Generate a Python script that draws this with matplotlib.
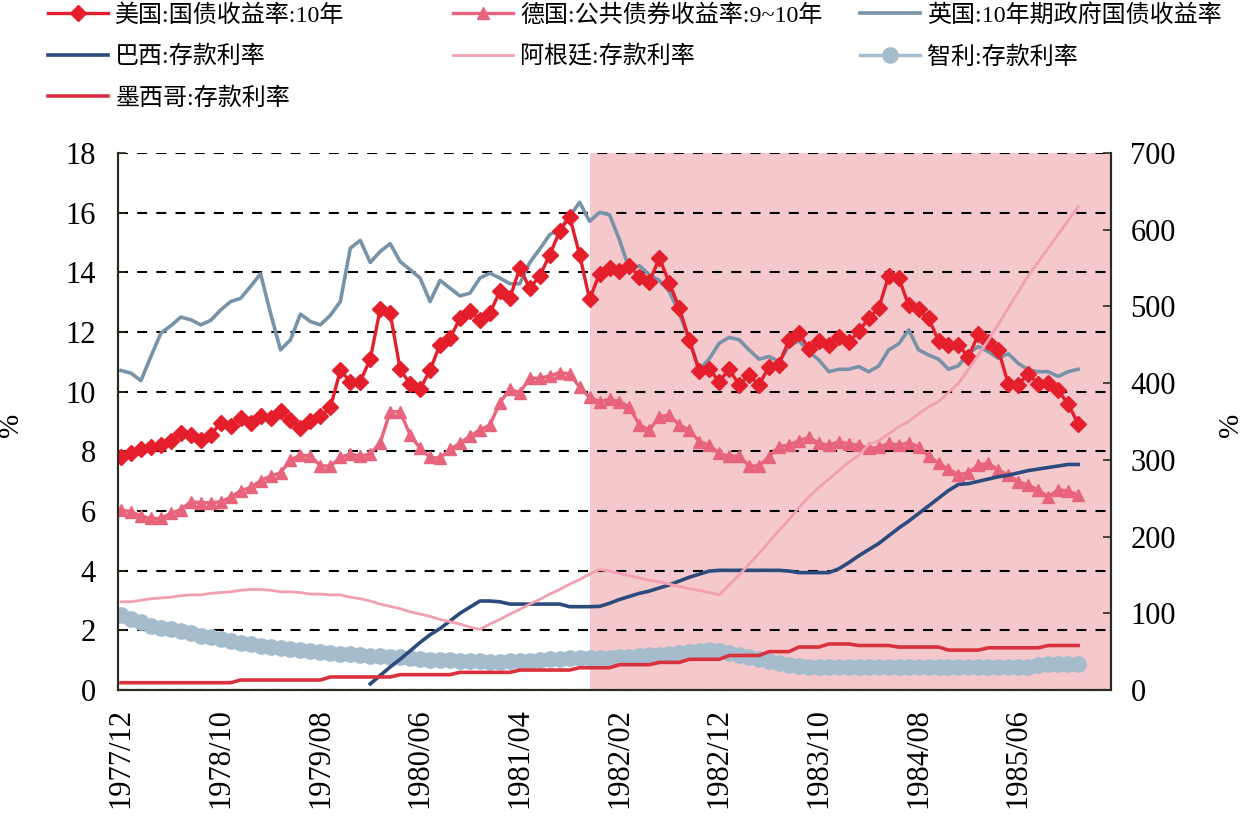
import numpy as np
import matplotlib
matplotlib.use("Agg")
import matplotlib.pyplot as plt

plt.rcParams['font.family'] = ['Liberation Serif', 'Noto Sans CJK SC']
plt.rcParams['axes.unicode_minus'] = False

# ---------------- data ----------------
tick_labels = ['1977/12', '1978/10', '1979/08', '1980/06', '1981/04',
               '1982/02', '1982/12', '1983/10', '1984/08', '1985/06']
tick_index = [0, 10, 20, 30, 40, 50, 60, 70, 80, 90]
shade_start = 47  # 1981/11

us_10y = [7.82, 7.96, 8.07, 8.16, 8.21, 8.35, 8.60, 8.55, 8.38, 8.55,
          8.96, 8.85, 9.11, 8.96, 9.19, 9.11, 9.36, 9.05, 8.77, 9.03,
          9.17, 9.47, 10.71, 10.34, 10.34, 11.09, 12.77, 12.63, 10.75, 10.25,
          10.08, 10.73, 11.57, 11.79, 12.46, 12.72, 12.39, 12.63, 13.36, 13.13,
          14.14, 13.47, 13.87, 14.59, 15.37, 15.87, 14.59, 13.10, 13.95, 14.14,
          14.03, 14.20, 13.86, 13.69, 14.48, 13.64, 12.80, 11.74, 10.68, 10.75,
          10.34, 10.75, 10.23, 10.55, 10.23, 10.84, 10.90, 11.74, 11.98, 11.42,
          11.71, 11.57, 11.83, 11.65, 12.02, 12.46, 12.80, 13.88, 13.81, 12.91,
          12.76, 12.46, 11.71, 11.57, 11.57, 11.15, 11.93, 11.65, 11.40, 10.26,
          10.23, 10.60, 10.26, 10.28, 10.04, 9.59, 8.92]

de_bond = [6.03, 5.98, 5.83, 5.75, 5.75, 5.92, 6.05, 6.31, 6.28, 6.28,
           6.31, 6.46, 6.68, 6.79, 7.02, 7.17, 7.28, 7.71, 7.88, 7.84,
           7.52, 7.50, 7.80, 7.91, 7.84, 7.91, 8.29, 9.33, 9.33, 8.55,
           8.10, 7.80, 7.77, 8.07, 8.27, 8.51, 8.72, 8.88, 9.63, 10.08,
           9.97, 10.45, 10.45, 10.53, 10.64, 10.60, 10.15, 9.81, 9.67, 9.74,
           9.67, 9.48, 8.88, 8.72, 9.16, 9.22, 8.88, 8.72, 8.32, 8.21,
           7.93, 7.84, 7.84, 7.51, 7.51, 7.82, 8.16, 8.21, 8.36, 8.47,
           8.27, 8.21, 8.32, 8.25, 8.21, 8.10, 8.13, 8.27, 8.21, 8.29,
           8.16, 7.84, 7.60, 7.40, 7.22, 7.28, 7.54, 7.60, 7.37, 7.21,
           6.98, 6.87, 6.70, 6.48, 6.70, 6.68, 6.53]

uk_10y = [10.71, 10.62, 10.37, 11.18, 11.96, 12.21, 12.50, 12.41, 12.24, 12.39,
          12.74, 13.02, 13.13, 13.53, 13.95, 12.63, 11.40, 11.74, 12.60, 12.35,
          12.24, 12.56, 13.02, 14.81, 15.07, 14.33, 14.70, 14.96, 14.36, 14.09,
          13.81, 13.02, 13.73, 13.47, 13.21, 13.30, 13.81, 13.97, 13.81, 13.62,
          13.62, 14.33, 14.78, 15.26, 15.45, 15.87, 16.35, 15.71, 16.01, 15.93,
          15.09, 14.09, 14.22, 13.92, 13.72, 13.36, 12.63, 11.74, 10.73, 11.10,
          11.62, 11.82, 11.74, 11.40, 11.09, 11.18, 11.01, 11.53, 11.71, 11.34,
          11.06, 10.67, 10.75, 10.75, 10.84, 10.67, 10.86, 11.40, 11.60, 12.07,
          11.40, 11.23, 11.09, 10.75, 10.87, 11.29, 11.51, 11.34, 11.12, 11.27,
          10.95, 10.73, 10.67, 10.67, 10.51, 10.67, 10.75]

br_deposit = [np.nan] * 25 + [
          8, 19, 30, 40, 51,
          62, 72, 80, 90, 100, 108, 116, 116, 115, 112,
          112, 112, 112, 112, 112, 108.6, 108.6, 108.6, 109, 113,
          118, 122, 126, 129, 133, 137, 142, 147, 151, 155,
          156, 156, 156, 156, 156, 156, 156, 155, 153, 153,
          153, 153, 158, 166, 175, 183, 191, 201, 211, 220,
          230, 240, 250, 260, 268, 269, 272, 275, 278, 280,
          283, 286, 288, 290, 292, 294, 294]

ar_deposit = [115, 115, 117, 119, 120, 121, 123, 124, 124, 126,
              127, 128, 130, 131, 131, 130, 128, 128, 127, 125,
              125, 124, 124, 121, 119, 116, 112, 109, 106, 102,
              99, 96, 92, 89, 86, 82, 79, 86, 92, 99,
              105, 112, 118, 125, 131, 138, 144, 151, 157, 155,
              152, 149, 146, 143, 141, 138, 135, 132, 130, 127,
              124, 137, 150, 164, 178, 193, 208, 222, 238, 252,
              264, 275, 286, 297, 306, 320, 325, 334, 343, 350,
              360, 369, 376, 388, 400, 418, 437, 456, 477, 498,
              519, 540, 558, 576, 594, 612, 630]

cl_deposit = [98, 92, 88, 84, 81, 79, 77, 74, 71, 69,
              66, 64, 61.5, 60, 58, 56, 54.5, 53, 52, 50.5,
              49, 48, 47, 46.5, 45.5, 44.5, 44, 43, 42.5, 41.5,
              40.5, 39, 39, 38.5, 38, 38, 37.5, 37, 37, 37.5,
              37.5, 38, 39, 40, 41, 41.5, 41.5, 41.5, 41.5, 42,
              42.5, 43, 44, 45, 46, 47, 48.5, 50, 51, 51.5,
              50.5, 48.5, 46, 43.5, 41, 38, 35.5, 33, 31.5, 30.5,
              30, 29.5, 29.5, 29.5, 29.5, 29.5, 29.5, 29.5, 29.5, 29.5,
              29.5, 29.5, 29.5, 29.5, 29.5, 29.5, 29.5, 29.5, 29.5, 29.5,
              30, 30.5, 32, 33.5, 34, 34, 33.5]

mx_deposit = [9.5] * 12 + [13] * 9 + [17] * 7 + [20] * 6 + [23] * 6 + \
             [26] * 6 + [29] * 4 + [33] * 4 + [36] * 3 + [40] * 4 + \
             [45] * 4 + [50] * 3 + [56] * 3 + [60] * 3 + [58] * 4 + \
             [56] * 5 + [52] * 4 + [55] * 6 + [58] * 4

labels = ['美国:国债收益率:10年', '德国:公共债券收益率:9~10年', '英国:10年期政府国债收益率',
          '巴西:存款利率', '阿根廷:存款利率', '智利:存款利率', '墨西哥:存款利率']

# ---------------- plot ----------------
W, H = 1245, 821
fig = plt.figure(figsize=(W / 100, H / 100), dpi=100)
ax = fig.add_axes([118 / W, 1 - 690 / H, 993 / W, 537 / H])
ax2 = ax.twinx()

x = np.arange(len(us_10y))
xr = np.arange(len(br_deposit))

c_us = '#e41e2b'
c_de = '#e8647c'
c_uk = '#7892a8'
c_br = '#2c4a7c'
c_ar = '#f2a0b0'
c_cl = '#a4bccc'
c_mx = '#d9313e'

xmin, xmax = -0.3, 99.3
ax.axvspan(shade_start, xmax, color='#f5c9cc', zorder=0, lw=0)

h_us, = ax.plot(x, us_10y, color=c_us, lw=2.4, marker='D', ms=8, zorder=5)
h_de, = ax.plot(x, de_bond, color=c_de, lw=2.4, marker='^', ms=8.5, zorder=4)
h_uk, = ax.plot(x, uk_10y, color=c_uk, lw=2.6, zorder=3)

h_br, = ax2.plot(xr, br_deposit, color=c_br, lw=2.6, zorder=3)
h_ar, = ax2.plot(x, ar_deposit, color=c_ar, lw=2.0, zorder=3)
h_cl, = ax2.plot(x, cl_deposit, color=c_cl, lw=2.4, marker='o', ms=11, zorder=2)
h_mx, = ax2.plot(x, mx_deposit, color=c_mx, lw=2.6, zorder=3)

ax.set_xlim(xmin, xmax)
ax.set_ylim(0, 18)
ax2.set_ylim(0, 700)
ax.set_yticks(range(0, 19, 2))
ax2.set_yticks(range(0, 701, 100))
ax.set_xticks(tick_index)
ax.set_xticklabels(tick_labels, rotation=90, fontsize=22)

ax.yaxis.grid(True, color='black', lw=1.5, linestyle=(0, (4.8, 4.4)), zorder=1)
ax.set_axisbelow(False)
ax.xaxis.grid(False)

spine_c = '#2b2b1f'
for a in (ax, ax2):
    a.spines['top'].set_visible(False)
    for s in ('left', 'right', 'bottom'):
        a.spines[s].set_color(spine_c)
        a.spines[s].set_linewidth(1.5)

ax.tick_params(axis='y', direction='in', length=6, width=1.2, color=spine_c,
               labelsize=22, pad=16)
ax.tick_params(axis='x', length=0, pad=13)
ax2.tick_params(axis='y', direction='in', length=6, width=1.2, color=spine_c,
                labelsize=22, pad=14)

fig.text(11 / W, 1 - 425 / H, '%', rotation=90, fontsize=21, ha='center', va='center')
fig.text(1231 / W, 1 - 425 / H, '%', rotation=90, fontsize=21, ha='center', va='center')

# legend (three columns placed like the original)
cols = [([h_us, h_br, h_mx], [labels[0], labels[3], labels[6]], 48),
        ([h_de, h_ar], [labels[1], labels[4]], 453),
        ([h_uk, h_cl], [labels[2], labels[5]], 860)]
for hs, ls, px in cols:
    fig.legend(hs, ls, loc='upper left', bbox_to_anchor=(px / W, 1 - 4 / H),
               frameon=False, fontsize=17.3, handlelength=2.5, handletextpad=0.3,
               borderpad=0, borderaxespad=0, labelspacing=0.8, numpoints=1)

fig.savefig('out.png', dpi=100)
